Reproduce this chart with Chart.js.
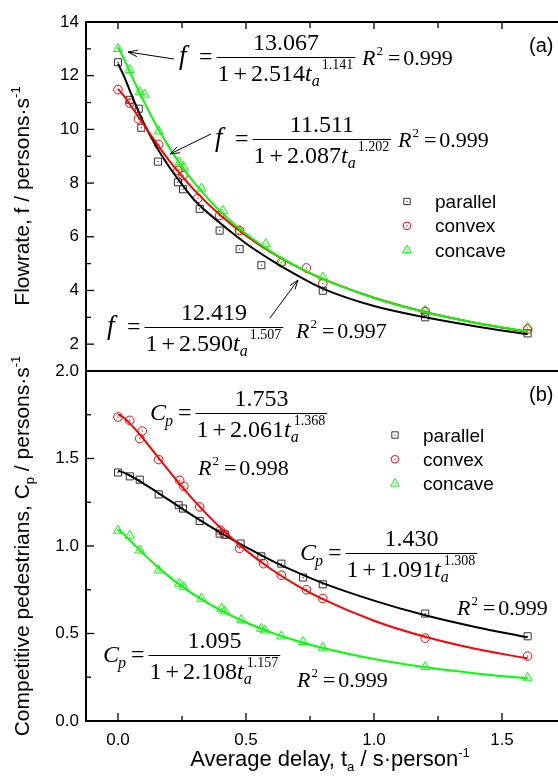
<!DOCTYPE html>
<html>
<head>
<meta charset="utf-8">
<script src="https://cdn.jsdelivr.net/npm/chart.js@4.4.1/dist/chart.umd.min.js"></script>
<style>
  html, body { margin: 0; padding: 0; background: #fff; overflow: hidden; }
  #wrap { position: relative; width: 558px; height: 779px; overflow: hidden; background: #fff; }
  canvas { position: absolute; left: 0; top: 0; }
</style>
</head>
<body>
<div id="wrap">
  <canvas id="flowChart" width="566" height="372"></canvas>
  <canvas id="cpChart" width="566" height="779"></canvas>
</div>
<script>
// ---- data ----
const seriesNames = ['parallel', 'convex', 'concave'];

// (a) flowrate, measured points
const flowParallelT = [0, 0.046, 0.081, 0.091, 0.156, 0.234, 0.254, 0.319, 0.397, 0.475, 0.56, 0.80, 1.2, 1.6];
const flowParallel  = [12.5, 11.1, 10.77, 10.06, 8.8, 8.03, 7.77, 7.04, 6.23, 5.54, 4.94, 3.99, 3.0, 2.4];
const flowConvexT   = [0, 0.046, 0.08, 0.159, 0.234, 0.254, 0.312, 0.397, 0.475, 0.638, 0.736, 0.80, 1.2, 1.6];
const flowConvex    = [11.48, 10.98, 10.39, 9.44, 8.47, 8.28, 7.43, 6.79, 6.23, 5.04, 4.84, 4.26, 3.22, 2.56];
const flowConcaveT  = [0, 0.046, 0.085, 0.104, 0.159, 0.241, 0.257, 0.326, 0.41, 0.475, 0.577, 0.638, 0.80, 1.2, 1.6];
const flowConcave   = [13.0, 12.22, 11.39, 11.3, 9.93, 8.78, 8.59, 7.8, 6.97, 6.23, 5.73, 5.04, 4.49, 3.24, 2.62];

// fitted curves, sampled along t
const fitT = [0, 0.025, 0.05, 0.1, 0.15, 0.2, 0.25, 0.3, 0.4, 0.5, 0.6, 0.7, 0.8, 1.0, 1.2, 1.4, 1.6];
const flowFitParallel = [12.45, 11.95, 11.35, 10.25, 9.35, 8.6, 7.95, 7.35, 6.5, 5.75, 5.12, 4.56, 4.07, 3.42, 3.0, 2.66, 2.37];
const flowFitConvex   = [11.51, 11.23, 10.89, 10.18, 9.49, 8.84, 8.26, 7.72, 6.80, 6.04, 5.41, 4.88, 4.43, 3.73, 3.20, 2.79, 2.46];
const flowFitConcave  = [13.07, 12.60, 12.07, 11.06, 10.14, 9.33, 8.61, 7.99, 6.94, 6.11, 5.44, 4.89, 4.43, 3.72, 3.19, 2.79, 2.47];

// (b) competitive pedestrians, measured points
const cpParallelT = [0, 0.046, 0.085, 0.159, 0.237, 0.254, 0.319, 0.397, 0.417, 0.479, 0.56, 0.638, 0.723, 0.80, 1.2, 1.6];
const cpParallel  = [1.42, 1.398, 1.379, 1.295, 1.233, 1.214, 1.143, 1.071, 1.065, 1.014, 0.941, 0.899, 0.82, 0.781, 0.614, 0.484];
const cpConvexT   = [0, 0.046, 0.085, 0.095, 0.159, 0.241, 0.257, 0.319, 0.40, 0.417, 0.475, 0.569, 0.638, 0.736, 0.80, 1.2, 1.6];
const cpConvex    = [1.737, 1.718, 1.614, 1.657, 1.494, 1.375, 1.341, 1.223, 1.09, 1.067, 0.987, 0.899, 0.833, 0.75, 0.70, 0.474, 0.371];
const cpConcaveT  = [0, 0.046, 0.085, 0.159, 0.24, 0.257, 0.326, 0.404, 0.417, 0.482, 0.56, 0.573, 0.638, 0.723, 0.80, 1.2, 1.6];
const cpConcave   = [1.088, 1.06, 0.975, 0.861, 0.785, 0.766, 0.70, 0.642, 0.627, 0.579, 0.528, 0.518, 0.484, 0.452, 0.42, 0.309, 0.248];

const cpFitParallel = [1.430, 1.418, 1.400, 1.357, 1.310, 1.262, 1.214, 1.166, 1.076, 0.993, 0.917, 0.849, 0.788, 0.688, 0.604, 0.536, 0.479];
const cpFitConvex   = [1.753, 1.730, 1.695, 1.611, 1.519, 1.428, 1.339, 1.255, 1.104, 0.975, 0.866, 0.774, 0.696, 0.573, 0.481, 0.411, 0.358];
const cpFitConcave  = [1.095, 1.064, 1.027, 0.955, 0.887, 0.825, 0.769, 0.719, 0.633, 0.563, 0.505, 0.457, 0.417, 0.354, 0.307, 0.272, 0.243];

// axis ticks
const flowTicks = [2, 4, 6, 8, 10, 12, 14];
const cpTicks = [0, 0.5, 1.0, 1.5, 2.0];
const delayTicks = [0, 0.5, 1.0, 1.5];

// ---- drawing helpers ----
const SERIF = '"Liberation Serif", "Times New Roman", serif';
const SANS = '"Liberation Sans", Arial, sans-serif';
const BLACK = '#000000', RED = '#ff0000', GREEN = '#00ff00', GREY = '#333333';

Chart.defaults.font.family = SANS;
Chart.defaults.color = '#000';

function toPoints(xs, ys) {
    return xs.map((t, i) => ({ x: t, y: ys[i] }));
}

function fitLine(xs, ys, color) {
    return {
        data: toPoints(xs, ys),
        showLine: true,
        borderColor: color,
        borderWidth: 2,
        pointRadius: 0,
        pointHoverRadius: 0,
        cubicInterpolationMode: 'monotone',
        fill: false,
        order: 0
    };
}

function markers(label, xs, ys, style, color, r) {
    return {
        label: label,
        data: toPoints(xs, ys),
        showLine: false,
        pointStyle: style,
        pointRadius: r,
        pointHoverRadius: r,
        pointBorderWidth: 1,
        pointBorderColor: color,
        pointBackgroundColor: 'rgba(0,0,0,0)',
        borderColor: color,
        order: 1
    };
}

function txt(ctx, s, x, y, size, italic) {
    ctx.font = (italic ? 'italic ' : '') + size + 'px ' + SERIF;
    ctx.fillText(s, x, y);
    return x + ctx.measureText(s).width;
}

function richText(ctx, parts, x, y) {
    for (const [s, size, dy] of parts) {
        ctx.font = size + 'px ' + SANS;
        ctx.fillText(s, x, y + dy);
        x += ctx.measureText(s).width;
    }
    return x;
}

function richWidth(ctx, parts) {
    let w = 0;
    for (const [s, size] of parts) {
        ctx.font = size + 'px ' + SANS;
        w += ctx.measureText(s).width;
    }
    return w;
}

function drawR2(ctx, x, y, val) {
    x = txt(ctx, 'R', x, y, 22, true);
    x = txt(ctx, '2', x + 1, y - 10, 13);
    x = txt(ctx, '=', x + 5, y, 22);
    txt(ctx, val, x + 3, y, 22);
}

// f = num / (1 + coef t_a^exp)   R^2 = r2
function drawEq(ctx, e) {
    const S = 24;
    ctx.save();
    ctx.fillStyle = '#000';
    ctx.strokeStyle = '#000';
    ctx.textBaseline = 'alphabetic';
    ctx.textAlign = 'left';
    const base = e.y + 7;
    let x = e.x;
    if (e.lhs === 'f') {
        txt(ctx, 'f', x + 2, base, 27, true);
        x += 22;
    } else {
        x = txt(ctx, 'C', x, base, S, true);
        x = txt(ctx, 'p', x - 1, base + 6, 16, true) + 5;
    }
    x = txt(ctx, '=', x, base, S);
    const bx = x + 4;

    const db = e.y + 24;
    let dx = txt(ctx, '1', bx + 1, db, S);
    dx = txt(ctx, '+', dx + 4, db, S) + 4;
    dx = txt(ctx, e.coef, dx, db, S);
    dx = txt(ctx, 't', dx, db, S, true);
    const ax = txt(ctx, 'a', dx, db + 5, 16, true);
    const ex = txt(ctx, e.exp, e.stack ? dx + 3 : ax + 2, db - 12, 14);
    const bw = Math.max(ex, ax) - bx + 2;

    ctx.lineWidth = 1;
    ctx.beginPath();
    ctx.moveTo(bx, e.y + 0.5);
    ctx.lineTo(bx + bw, e.y + 0.5);
    ctx.stroke();

    ctx.font = S + 'px ' + SERIF;
    ctx.textAlign = 'center';
    ctx.fillText(e.num, bx + bw / 2, e.y - 7);
    ctx.textAlign = 'left';

    drawR2(ctx, e.rx, e.ry, e.r2);
    ctx.restore();
}

function arrow(ctx, x1, y1, x2, y2) {
    const ang = Math.atan2(y2 - y1, x2 - x1);
    ctx.save();
    ctx.strokeStyle = '#000';
    ctx.lineWidth = 1;
    ctx.beginPath();
    ctx.moveTo(x1, y1);
    ctx.lineTo(x2, y2);
    ctx.moveTo(x2 - 10 * Math.cos(ang - 0.33), y2 - 10 * Math.sin(ang - 0.33));
    ctx.lineTo(x2, y2);
    ctx.lineTo(x2 - 10 * Math.cos(ang + 0.33), y2 - 10 * Math.sin(ang + 0.33));
    ctx.stroke();
    ctx.restore();
}

function drawMarker(ctx, style, x, y, r, color) {
    ctx.save();
    ctx.strokeStyle = color;
    ctx.fillStyle = color;
    ctx.lineWidth = 1;
    ctx.beginPath();
    if (style === 'rect') {
        const h = r * Math.SQRT1_2;
        ctx.rect(x - h, y - h, 2 * h, 2 * h);
    } else if (style === 'circle') {
        ctx.arc(x, y, r, 0, Math.PI * 2);
    } else {
        ctx.moveTo(x, y - r);
        ctx.lineTo(x + r * 0.866, y + r * 0.5);
        ctx.lineTo(x - r * 0.866, y + r * 0.5);
        ctx.closePath();
    }
    ctx.stroke();
    ctx.fillRect(x - 0.6, y - 0.6, 1.2, 1.2);
    ctx.restore();
}

function drawLegend(ctx, mx, tx, y0) {
    const styles = [['rect', GREY, 4.5], ['circle', RED, 3.8], ['triangle', GREEN, 5]];
    ctx.save();
    ctx.textBaseline = 'alphabetic';
    seriesNames.forEach((name, i) => {
        const y = y0 + i * 24.3;
        drawMarker(ctx, styles[i][0], mx, y, styles[i][2], styles[i][1]);
        ctx.fillStyle = '#000';
        ctx.font = '19px ' + SANS;
        ctx.fillText(name, tx, y + 6.5);
    });
    ctx.restore();
}

function drawYTitle(ctx, parts, cx, cy) {
    ctx.save();
    ctx.translate(cx, cy);
    ctx.rotate(-Math.PI / 2);
    ctx.fillStyle = '#000';
    ctx.textBaseline = 'alphabetic';
    const w = richWidth(ctx, parts);
    richText(ctx, parts, -w / 2, 7);
    ctx.restore();
}

// inward ticks on every side plus the box
const framePlugin = {
    id: 'frame',
    afterDraw(chart, args, opts) {
        const { ctx, chartArea: a, scales } = chart;
        const xs = scales.x, ys = scales.y;
        const mids = arr => arr.slice(1).map((v, i) => (v + arr[i]) / 2);
        const seg = (x1, y1, x2, y2) => {
            ctx.beginPath();
            ctx.moveTo(x1, y1);
            ctx.lineTo(x2, y2);
            ctx.stroke();
        };
        ctx.save();
        ctx.strokeStyle = '#000';
        ctx.lineWidth = 1.3;
        const yT = opts.yTicks;
        yT.forEach(v => { const p = ys.getPixelForValue(v); seg(a.left, p, a.left + 8, p); seg(a.right, p, a.right - 8, p); });
        mids(yT).forEach(v => { const p = ys.getPixelForValue(v); seg(a.left, p, a.left + 5, p); seg(a.right, p, a.right - 5, p); });
        const xT = delayTicks;
        const xm = mids(xT);
        if (opts.top) {
            xT.forEach(v => { const p = xs.getPixelForValue(v); seg(p, a.top, p, a.top + 7); });
            xm.forEach(v => { const p = xs.getPixelForValue(v); seg(p, a.top, p, a.top + 6); });
        }
        if (opts.bottom) {
            xT.forEach(v => { const p = xs.getPixelForValue(v); seg(p, a.bottom, p, a.bottom - 8); });
            xm.forEach(v => { const p = xs.getPixelForValue(v); seg(p, a.bottom, p, a.bottom - 5); });
        }
        ctx.lineWidth = 2;
        ctx.strokeRect(a.left, a.top, a.right - a.left, a.bottom - a.top);
        ctx.restore();
    }
};

// small dot in the middle of each hollow marker
const dotPlugin = {
    id: 'centerDots',
    afterDatasetsDraw(chart) {
        const ctx = chart.ctx;
        ctx.save();
        chart.data.datasets.forEach((ds, i) => {
            if (ds.showLine) return;
            ctx.fillStyle = ds.borderColor;
            chart.getDatasetMeta(i).data.forEach(pt => {
                ctx.fillRect(pt.x - 0.6, pt.y - 0.6, 1.2, 1.2);
            });
        });
        ctx.restore();
    }
};

// label overflow would otherwise shrink the plot area
function noPadding(s) {
    s.paddingTop = 0;
    s.paddingBottom = 0;
    s.paddingLeft = 0;
    s.paddingRight = 0;
}

function xScale(show) {
    return {
        type: 'linear',
        min: -0.125,
        max: 1.75,
        display: show,
        afterBuildTicks: s => { s.ticks = delayTicks.map(v => ({ value: v })); },
        grid: { display: false, drawTicks: false },
        border: { display: false },
        ticks: { font: { size: 17 }, padding: 9, color: '#000', callback: v => v.toFixed(1) },
        afterFit: s => {
            noPadding(s);
            if (show) s.height = 58;
        }
    };
}

function yScale(min, max, tickVals, fmt) {
    return {
        type: 'linear',
        min: min,
        max: max,
        afterBuildTicks: s => { s.ticks = tickVals.map(v => ({ value: v })); },
        grid: { display: false, drawTicks: false },
        border: { display: false },
        ticks: { font: { size: 17 }, padding: 7, color: '#000', callback: fmt },
        afterFit: s => {
            noPadding(s);
            s.width = 86;
        }
    };
}

// ---- (a) flowrate ----
new Chart(document.getElementById('flowChart'), {
    type: 'scatter',
    data: {
        datasets: [
            fitLine(fitT, flowFitConcave, GREEN),
            fitLine(fitT, flowFitConvex, RED),
            fitLine(fitT, flowFitParallel, BLACK),
            markers(seriesNames[0], flowParallelT, flowParallel, 'rect', GREY, 5),
            markers(seriesNames[1], flowConvexT, flowConvex, 'circle', RED, 4.3),
            markers(seriesNames[2], flowConcaveT, flowConcave, 'triangle', GREEN, 5.3)
        ]
    },
    options: {
        responsive: false,
        animation: false,
        events: [],
        layout: { autoPadding: false, padding: { top: 22, bottom: 1, left: 0, right: 0 } },
        scales: {
            x: xScale(false),
            y: yScale(1, 14, flowTicks, v => String(v))
        },
        plugins: {
            legend: { display: false },
            tooltip: { enabled: false },
            frame: { yTicks: flowTicks, top: true, bottom: false }
        }
    },
    plugins: [framePlugin, dotPlugin, {
        id: 'flowText',
        afterDraw(chart) {
            const ctx = chart.ctx;
            drawEq(ctx, { x: 177, y: 57, lhs: 'f', num: '13.067', coef: '2.514', exp: '1.141', rx: 362, ry: 65, r2: '0.999' });
            drawEq(ctx, { x: 213, y: 139, lhs: 'f', num: '11.511', coef: '2.087', exp: '1.202', rx: 398, ry: 147, r2: '0.999' });
            drawEq(ctx, { x: 105, y: 327, lhs: 'f', num: '12.419', coef: '2.590', exp: '1.507', rx: 296, ry: 338, r2: '0.997' });
            arrow(ctx, 174, 59, 128, 52);
            arrow(ctx, 211, 134, 170, 154);
            arrow(ctx, 270, 318, 298, 280);
            drawLegend(ctx, 407, 435, 201.5);
            ctx.save();
            ctx.fillStyle = '#000';
            ctx.font = '20px ' + SANS;
            ctx.fillText('(a)', 529, 52);
            ctx.restore();
            drawYTitle(ctx, [['Flowrate, f / persons\u00B7s', 21, 0], ['-1', 13, -9]], 22, 196);
        }
    }]
});

// ---- (b) competitive pedestrians ----
new Chart(document.getElementById('cpChart'), {
    type: 'scatter',
    data: {
        datasets: [
            fitLine(fitT, cpFitConcave, GREEN),
            fitLine(fitT, cpFitConvex, RED),
            fitLine(fitT, cpFitParallel, BLACK),
            markers(seriesNames[0], cpParallelT, cpParallel, 'rect', GREY, 5),
            markers(seriesNames[1], cpConvexT, cpConvex, 'circle', RED, 4.3),
            markers(seriesNames[2], cpConcaveT, cpConcave, 'triangle', GREEN, 5.3)
        ]
    },
    options: {
        responsive: false,
        animation: false,
        events: [],
        layout: { autoPadding: false, padding: { top: 371, bottom: 0, left: 0, right: 0 } },
        scales: {
            x: xScale(true),
            y: yScale(0, 2, cpTicks, v => v.toFixed(1))
        },
        plugins: {
            legend: { display: false },
            tooltip: { enabled: false },
            frame: { yTicks: cpTicks, top: false, bottom: true }
        }
    },
    plugins: [framePlugin, dotPlugin, {
        id: 'cpText',
        afterDraw(chart) {
            const ctx = chart.ctx;
            drawEq(ctx, { x: 150, y: 413, lhs: 'C', num: '1.753', coef: '2.061', exp: '1.368', stack: true, rx: 198, ry: 475, r2: '0.998' });
            drawEq(ctx, { x: 300, y: 553, lhs: 'C', num: '1.430', coef: '1.091', exp: '1.308', stack: true, rx: 457, ry: 615, r2: '0.999' });
            drawEq(ctx, { x: 103, y: 655, lhs: 'C', num: '1.095', coef: '2.108', exp: '1.157', stack: true, rx: 297, ry: 687, r2: '0.999' });
            drawLegend(ctx, 395, 423, 435);
            ctx.save();
            ctx.fillStyle = '#000';
            ctx.font = '20px ' + SANS;
            ctx.fillText('(b)', 529, 401);
            ctx.restore();
            drawYTitle(ctx, [['Competitive pedestrians, C', 21, 0], ['p', 13, 5], [' / persons\u00B7s', 21, 0], ['-1', 13, -9]], 22, 546);
            // x title
            ctx.save();
            ctx.fillStyle = '#000';
            ctx.textBaseline = 'alphabetic';
            const xParts = [['Average delay, t', 22, 0], ['a', 13, 5], [' / s\u00B7person', 22, 0], ['-1', 13, -9]];
            const w = richWidth(ctx, xParts);
            richText(ctx, xParts, 330 - w / 2, 766);
            ctx.restore();
        }
    }]
});
</script>
</body>
</html>
